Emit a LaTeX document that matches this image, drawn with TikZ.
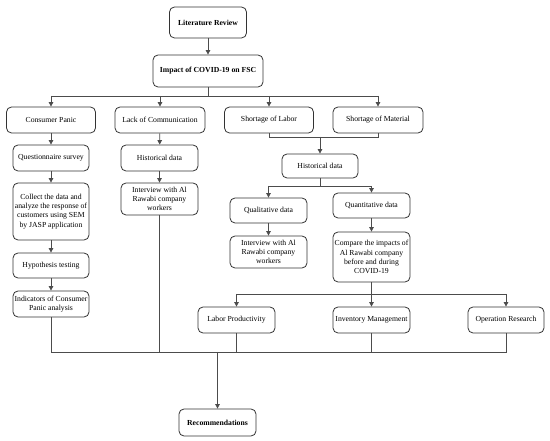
\documentclass[tikz,border=0pt]{standalone}
\usepackage{fontspec}
\setmainfont{Liberation Serif}
\usetikzlibrary{arrows.meta}
\begin{document}
\begin{tikzpicture}[x=1pt,y=-1pt,
  box/.style={draw=black!80, line width=0.8pt, rounded corners=5pt, align=center, inner sep=1pt,
     font=\fontsize{7.7}{9.3}\selectfont, fill=white},
  bbox/.style={box, font=\fontsize{7.7}{9.3}\selectfont\bfseries},
  ln/.style={draw=black!70, line width=0.8pt},
  arr/.style={ln, -{Triangle[length=4.5pt,width=4.5pt]}}]
\useasboundingbox (0,0) rectangle (550,441);
% nodes
\node[bbox, minimum width=77, minimum height=31] (lit) at (208,22.5) {Literature Review};
\node[bbox, minimum width=110, minimum height=32] (imp) at (208,71) {Impact of COVID-19 on FSC};
\node[box, minimum width=89, minimum height=26] (cp) at (51,120) {Consumer Panic};
\node[box, minimum width=90, minimum height=26] (lc) at (160,120) {Lack of Communication};
\node[box, minimum width=89, minimum height=26] (sl) at (269,120) {Shortage of Labor};
\node[box, minimum width=90, minimum height=26] (sm) at (378,120) {Shortage of Material};
\node[box, minimum width=76, minimum height=26] (qs) at (51,158) {Questionnaire survey};
\node[box, minimum width=76, minimum height=57] (col) at (51,211.5) {Collect the data and\\analyze the response of\\customers using SEM\\by JASP application};
\node[box, minimum width=76, minimum height=25] (hyp) at (51,265.5) {Hypothesis testing};
\node[box, minimum width=76, minimum height=26] (ind) at (51,304) {Indicators of Consumer\\Panic analysis};
\node[box, minimum width=77, minimum height=26] (hd1) at (159.5,158) {Historical data};
\node[box, minimum width=77, minimum height=32] (iw1) at (159.5,199) {Interview with Al\\Rawabi company\\workers};
\node[box, minimum width=76, minimum height=24] (hd2) at (320,166) {Historical data};
\node[box, minimum width=77, minimum height=25] (ql) at (268.5,210.5) {Qualitative data};
\node[box, minimum width=77, minimum height=32] (iw2) at (268.5,252) {Interview with Al\\Rawabi company\\workers};
\node[box, minimum width=77, minimum height=25] (qn) at (371.5,205.5) {Quantitative data};
\node[box, minimum width=77, minimum height=50] (cmp) at (371.5,257) {Compare the impacts of\\Al Rawabi company\\before and during\\COVID-19};
\node[box, minimum width=77, minimum height=26] (lp) at (236.5,320) {Labor Productivity};
\node[box, minimum width=77, minimum height=26] (im) at (371.5,320) {Inventory Management};
\node[box, minimum width=76, minimum height=26] (orr) at (506,320) {Operation Research};
\node[bbox, minimum width=77, minimum height=27] (rec) at (217.5,422.5) {Recommendations};
% bus coordinates
\coordinate (b1) at (0,96);
\coordinate (b3) at (0,137);
\coordinate (b4) at (0,186);
\coordinate (b5) at (0,294);
\coordinate (b6) at (0,352);
% connectors
\draw[arr] (lit) -- (imp);
\draw[ln] (imp.south) -- (imp.south |- b1);
\draw[ln] (cp.north |- b1) -- (sm.north |- b1);
\draw[arr] (cp.north |- b1) -- (cp.north);
\draw[arr] (lc.north |- b1) -- (lc.north);
\draw[arr] (sl.north |- b1) -- (sl.north);
\draw[arr] (sm.north |- b1) -- (sm.north);
\draw[arr] (cp) -- (qs);
\draw[arr] (qs) -- (col);
\draw[arr] (col) -- (hyp);
\draw[arr] (hyp) -- (ind);
\draw[arr] (lc) -- (hd1);
\draw[arr] (hd1) -- (iw1);
\draw[ln] (sl.south) |- (sm.south |- b3) -- (sm.south);
\draw[arr] (hd2.north |- b3) -- (hd2.north);
\draw[ln] (hd2.south) -- (hd2.south |- b4);
\draw[ln] (ql.north |- b4) -- (qn.north |- b4);
\draw[arr] (ql.north |- b4) -- (ql.north);
\draw[arr] (qn.north |- b4) -- (qn.north);
\draw[arr] (ql) -- (iw2);
\draw[arr] (qn) -- (cmp);
\draw[ln] (cmp.south) -- (cmp.south |- b5);
\draw[ln] (lp.north |- b5) -- (orr.north |- b5);
\draw[arr] (lp.north |- b5) -- (lp.north);
\draw[arr] (im.north |- b5) -- (im.north);
\draw[arr] (orr.north |- b5) -- (orr.north);
\draw[ln] (ind.south) |- (orr.south |- b6) -- (orr.south);
\draw[ln] (iw1.south) -- (iw1.south |- b6);
\draw[ln] (lp.south) -- (lp.south |- b6);
\draw[ln] (im.south) -- (im.south |- b6);
\draw[arr] (rec.north |- b6) -- (rec.north);
\end{tikzpicture}
\end{document}
